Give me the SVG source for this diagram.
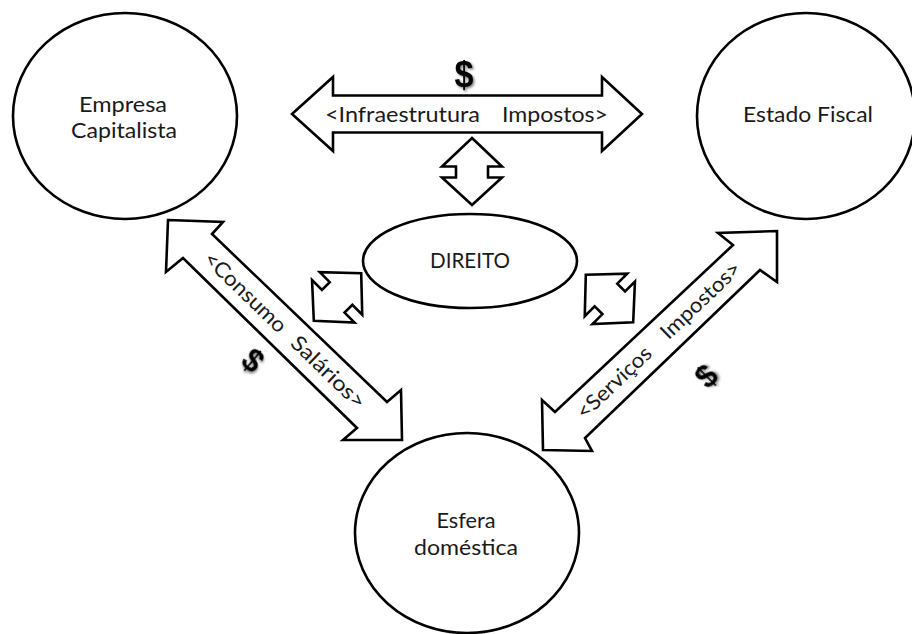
<svg xmlns="http://www.w3.org/2000/svg" width="912" height="634" viewBox="0 0 912 634">
<style>
.node{fill:#fff;stroke:#000;stroke-width:2.6}
.arr{fill:#fff;stroke:#000;stroke-width:2.6;stroke-linejoin:miter}
.t{font-family:Lato,"Liberation Sans",sans-serif;font-size:22px;fill:#1a1a1a;text-anchor:middle}
.lbl{font-family:Lato,"Liberation Sans",sans-serif;font-size:21px;fill:#1a1a1a}
.dol{font-family:"Liberation Sans",Arial,sans-serif;font-weight:bold;font-size:36px;text-anchor:middle;fill:#000;filter:url(#sh)}
</style>
<defs>
<filter id="sh" x="-50%" y="-50%" width="200%" height="200%">
<feDropShadow dx="1.5" dy="1.5" stdDeviation="1" flood-color="#000" flood-opacity="0.5"/>
</filter>
<path id="small" d="M0,-33.5 L30,-5 L16,-5 L16,6 L30,6 L0,33.5 L-30,6 L-16,6 L-16,-5 L-30,-5 Z"/>
</defs>
<g id="nodes">
<g id="empresa">
<ellipse class="node" cx="125" cy="116" rx="112" ry="103"/>
<text class="t" x="123" y="112" textLength="88" lengthAdjust="spacingAndGlyphs">Empresa</text>
<text class="t" x="124" y="138" textLength="106" lengthAdjust="spacingAndGlyphs">Capitalista</text>
</g>
<g id="estado">
<ellipse class="node" cx="806" cy="116" rx="109" ry="103"/>
<text class="t" x="808" y="122" textLength="130" lengthAdjust="spacingAndGlyphs">Estado Fiscal</text>
</g>
<g id="direito">
<ellipse class="node" cx="470" cy="261" rx="107" ry="47"/>
<text class="t" x="470" y="268" textLength="80" lengthAdjust="spacingAndGlyphs">DIREITO</text>
</g>
<g id="esfera">
<ellipse class="node" cx="467" cy="533" rx="112" ry="100"/>
<text class="t" x="466" y="528" textLength="59" lengthAdjust="spacingAndGlyphs">Esfera</text>
<text class="t" x="466" y="555" textLength="104" lengthAdjust="spacingAndGlyphs">doméstica</text>
</g>
</g>
<g id="connectors">
<g id="arrow-top">
<polygon class="arr" points="292,114 333,77 333,95.5 602,95.5 602,77 642,114 602,151 602,132.5 333,132.5 333,151"/>
<text class="lbl" x="325" y="122" textLength="155" lengthAdjust="spacingAndGlyphs">&lt;Infraestrutura</text>
<text class="lbl" x="502" y="122" textLength="106" lengthAdjust="spacingAndGlyphs">Impostos&gt;</text>
<text class="dol" x="464" y="87" textLength="19" lengthAdjust="spacingAndGlyphs">$</text>
</g>
<use class="arr" href="#small" transform="translate(472,171.5)"/>
<use class="arr" href="#small" transform="translate(337.5,297) rotate(45)"/>
<use class="arr" href="#small" transform="translate(609.5,298.5) rotate(-45)"/>
<g id="arrow-consumo">
<polygon class="arr" points="168,220 223,222 212,234 387,402 401,390 402,440 343,440 357,428 183,258 166,272"/>
<g transform="translate(284.75,330.5) rotate(44)">
<text class="lbl" x="-108" y="7" textLength="106" lengthAdjust="spacingAndGlyphs">&lt;Consumo</text>
<text class="lbl" x="13" y="7" textLength="95" lengthAdjust="spacingAndGlyphs">Salários&gt;</text>
</g>
<g transform="translate(253,360) rotate(40)">
<text class="dol" x="0" y="11" style="font-size:31px">$</text>
</g>
</g>
<g id="arrow-servicos">
<polygon class="arr" points="777,231 777,282 760,270 585,438 592,451 543,450 542,400 555,412 733,245 718,233"/>
<g transform="translate(658,341) rotate(-43.5)">
<text class="lbl" x="-108" y="7" textLength="95" lengthAdjust="spacingAndGlyphs">&lt;Serviços</text>
<text class="lbl" x="8" y="7" textLength="102" lengthAdjust="spacingAndGlyphs">Impostos&gt;</text>
</g>
<g transform="translate(706,376) rotate(-45)">
<text class="dol" x="0" y="11" style="font-size:31px">$</text>
</g>
</g>
</g>
</svg>
